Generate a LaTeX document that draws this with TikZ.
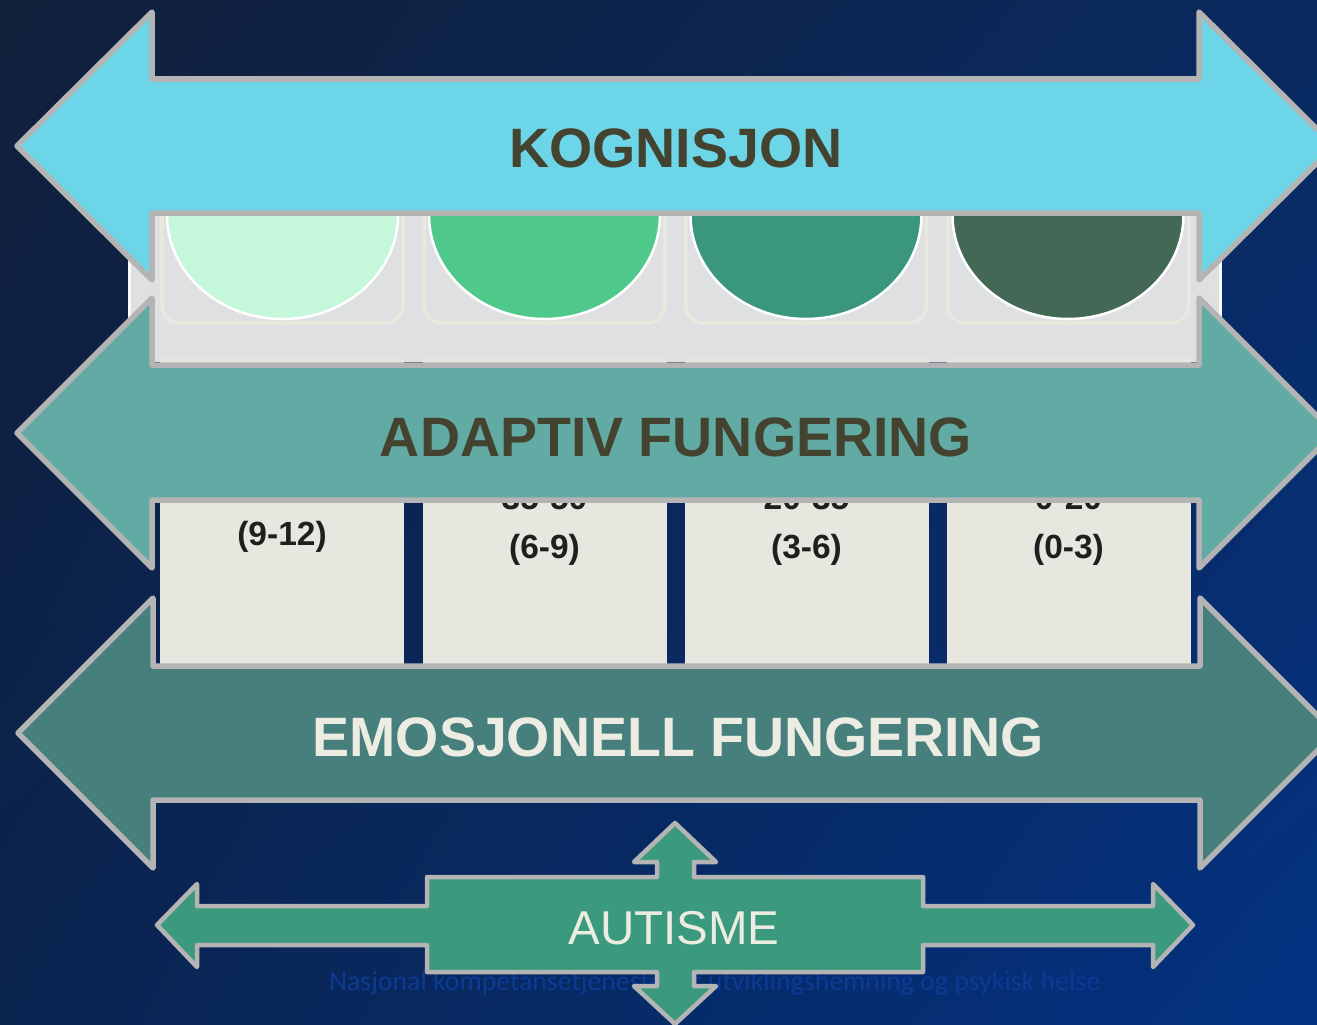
\documentclass[tikz,border=0pt]{standalone}
\usepackage{fontspec}
\usetikzlibrary{shadings}
\setmainfont{Liberation Sans}
\newfontfamily\footfont{Carlito}
\definecolor{bgTL}{HTML}{111F3A}
\definecolor{bgTR}{HTML}{0A2A60}
\definecolor{bgBL}{HTML}{0A2450}
\definecolor{bgBR}{HTML}{033282}
\definecolor{kogc}{HTML}{6DD5E8}
\definecolor{adapc}{HTML}{62AAA4}
\definecolor{emoc}{HTML}{467F7B}
\definecolor{autc}{HTML}{3B997E}
\definecolor{outl}{HTML}{B4B4B4}
\definecolor{panelc}{HTML}{DEE0E2}
\definecolor{framec}{HTML}{E8E8DE}
\definecolor{cellc}{HTML}{E7E7DF}
\definecolor{darktxt}{HTML}{434330}
\definecolor{lighttxt}{HTML}{ECECE2}
\definecolor{coltxt}{HTML}{1F1F1F}
\definecolor{foottxt}{HTML}{0C3B95}
\definecolor{cA}{HTML}{C5F7DA}
\definecolor{cB}{HTML}{4FC98B}
\definecolor{cC}{HTML}{3A967C}
\definecolor{cD}{HTML}{436856}
\begin{document}
\begin{tikzpicture}[x=1pt,y=-1pt,
  arrowshape/.style={draw=outl, line width=5.5pt, line join=round},
  bigtitle/.style={inner sep=0pt, anchor=base, font=\bfseries\fontsize{55.5}{60}\selectfont},
  coltext/.style={inner sep=0pt, anchor=base, text=coltxt, font=\bfseries\fontsize{33.5}{38}\selectfont},
  framebox/.style={draw=framec, line width=4pt, fill=panelc, rounded corners=18pt},
  dome/.style={draw=white, line width=2.5pt},
  cellbox/.style={fill=cellc}
]
\useasboundingbox (0,0) rectangle (1317,1025);
\clip (0,0) rectangle (1317,1025);
% background
\shade[upper left=bgTL, upper right=bgTR, lower left=bgBL, lower right=bgBR] (0,0) rectangle (1317,1025);

% upper panel with domes
\fill[panelc] (128,205) rectangle (1222,362);
\draw[white!80!panelc, line width=3pt] (129.5,205) -- (129.5,362);
\draw[white!80!panelc, line width=3pt] (1220.5,205) -- (1220.5,362);
\foreach \cx/\col in {282.5/cA, 544.5/cB, 806/cC, 1068/cD}{
  \draw[framebox] (\cx-120.5,180) rectangle (\cx+120.5,323);
  \filldraw[dome, fill=\col] (\cx,215) ellipse [x radius=115.5pt, y radius=104pt];
}

% lower cells
\foreach \cx in {282, 544.5, 806.5, 1068.5}{
  \fill[cellc] (\cx-122,359) rectangle (\cx+122,665);
}
\node[coltext] (c1b) at (282,545) {(9-12)};
\node[coltext] (c2a) at (544.5,509) {35-50};
\node[coltext] (c2b) at (544.5,558) {(6-9)};
\node[coltext] (c3a) at (806.5,509) {20-35};
\node[coltext] (c3b) at (806.5,558) {(3-6)};
\node[coltext] (c4a) at (1068.5,509) {0-20};
\node[coltext] (c4b) at (1068.5,558) {(0-3)};

% big double arrows
\draw[arrowshape, fill=kogc] (17,146) -- (152,12) -- (152,79) -- (1199,79) -- (1199,12) -- (1334,146)
  -- (1199,280) -- (1199,213) -- (152,213) -- (152,280) -- cycle;
\draw[arrowshape, fill=adapc] (17,433) -- (152,298) -- (152,365) -- (1199,365) -- (1199,298) -- (1334,433)
  -- (1199,568) -- (1199,500) -- (152,500) -- (152,568) -- cycle;
\draw[arrowshape, fill=emoc] (18,733) -- (153,598) -- (153,666) -- (1200,666) -- (1200,598) -- (1335,733)
  -- (1200,868) -- (1200,800) -- (153,800) -- (153,868) -- cycle;

\node[bigtitle, text=darktxt] (kog) at (676,167) {KOGNISJON};
\node[bigtitle, text=darktxt] (adap) at (676,456) {ADAPTIV FUNGERING};
\node[bigtitle, text=lighttxt] (emo) at (678,756) {EMOSJONELL FUNGERING};

% footer text
\node[inner sep=0pt, anchor=base west, text=foottxt, font=\footfont\fontsize{27.8}{32}\selectfont] (foot) at (329,990)
  {Nasjonal kompetansetjeneste for utviklingshemning og psykisk helse};

% autism shape
\draw[draw=outl, line width=4.5pt, line join=round, fill=autc]
  (157,925) -- (197,884) -- (197,906) -- (427,906) -- (427,877) -- (657,877) -- (657,862) -- (634,862)
  -- (675,823) -- (716,862) -- (694,862) -- (694,877) -- (923,877) -- (923,906) -- (1153,906) -- (1153,884)
  -- (1193,925) -- (1153,967) -- (1153,945) -- (923,945) -- (923,972) -- (694,972) -- (694,986) -- (716,986)
  -- (675,1024) -- (634,986) -- (657,986) -- (657,972) -- (427,972) -- (427,945) -- (197,945) -- (197,967) -- cycle;
\node[inner sep=0pt, anchor=base, text=lighttxt, font=\fontsize{47.5}{52}\selectfont] (aut) at (674,944) {AUTISME};
\end{tikzpicture}
\end{document}
